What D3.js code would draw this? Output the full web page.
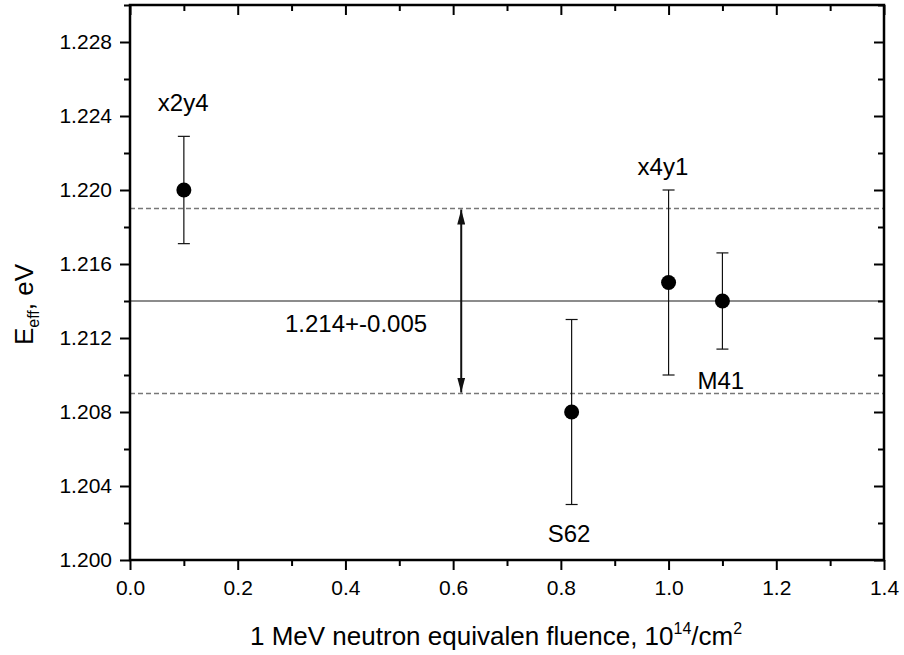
<!DOCTYPE html>
<html>
<head>
<meta charset="utf-8">
<script src="https://cdn.jsdelivr.net/npm/d3@7"></script>
<style>
  body { margin: 0; background: #fff; }
  svg { display: block; font-family: "Liberation Sans", Arial, sans-serif; }
</style>
</head>
<body>
<div class="graph"></div>
<script>
// sample data
const samples = ["x2y4", "S62", "x4y1", "M41"];
const fluence = [0.1, 0.82, 1.0, 1.1];
const eEff = [1.22, 1.208, 1.215, 1.214];
const errPlus = [0.0029, 0.005, 0.005, 0.0026];
const errMinus = [0.0029, 0.005, 0.005, 0.0026];

// mean value band
const meanE = 1.214;
const spreadE = 0.005;
const arrowX = 0.615;
const bandLabel = "1.214+-0.005";

const xTicks = [0, 0.2, 0.4, 0.6, 0.8, 1.0, 1.2, 1.4];
const yTicks = [1.2, 1.204, 1.208, 1.212, 1.216, 1.22, 1.224, 1.228];

const width = 904;
const height = 655;
const margin = { top: 5, right: 20, bottom: 95, left: 130 };

const svg = d3
  .select(".graph")
  .append("svg")
  .attr("width", width)
  .attr("height", height);

const x = d3
  .scaleLinear()
  .domain([0, 1.4])
  .range([margin.left, width - margin.right]);
const y = d3
  .scaleLinear()
  .domain([1.2, 1.23])
  .range([height - margin.bottom, margin.top]);

const points = samples.map((name, i) => ({
  name,
  x: fluence[i],
  y: eEff[i],
  hi: eEff[i] + errPlus[i],
  lo: eEff[i] - errMinus[i],
}));

// label offsets from each point (px)
const labelPos = {
  x2y4: { dx: -26, at: "hi", dy: -25 },
  S62: { dx: -24, at: "lo", dy: 37 },
  x4y1: { dx: -31, at: "hi", dy: -15 },
  M41: { dx: -25, at: "y", dy: 88 },
};

// reference lines
const lines = svg.append("g");
lines
  .append("line")
  .attr("x1", x(0))
  .attr("x2", x(1.4))
  .attr("y1", y(meanE))
  .attr("y2", y(meanE))
  .attr("stroke", "#666")
  .attr("stroke-width", 1.5);
lines
  .selectAll(".dash")
  .data([meanE + spreadE, meanE - spreadE])
  .join("line")
  .attr("x1", x(0))
  .attr("x2", x(1.4))
  .attr("y1", (d) => y(d))
  .attr("y2", (d) => y(d))
  .attr("stroke", "#777")
  .attr("stroke-width", 1.3)
  .attr("stroke-dasharray", "5,3");

// double arrow
const defs = svg.append("defs");
defs
  .append("marker")
  .attr("id", "head")
  .attr("viewBox", "0 0 15 8")
  .attr("refX", 15)
  .attr("refY", 4)
  .attr("markerWidth", 7.5)
  .attr("markerHeight", 4)
  .attr("markerUnits", "strokeWidth")
  .attr("orient", "auto-start-reverse")
  .append("path")
  .attr("d", "M0,0L15,4L0,8Z")
  .attr("fill", "#111");

svg
  .append("line")
  .attr("x1", x(arrowX))
  .attr("x2", x(arrowX))
  .attr("y1", y(meanE + spreadE) + 1)
  .attr("y2", y(meanE - spreadE) - 1)
  .attr("stroke", "#111")
  .attr("stroke-width", 2)
  .attr("marker-start", "url(#head)")
  .attr("marker-end", "url(#head)");

svg
  .append("text")
  .attr("x", 285)
  .attr("y", y(meanE) + 31)
  .attr("font-size", 24)
  .text(bandLabel);

// error bars
const capW = 6;
const err = svg.append("g").attr("stroke", "#111").attr("stroke-width", 1.2);
err
  .selectAll(".v")
  .data(points)
  .join("line")
  .attr("x1", (d) => x(d.x))
  .attr("x2", (d) => x(d.x))
  .attr("y1", (d) => y(d.hi))
  .attr("y2", (d) => y(d.lo));
err
  .selectAll(".cap")
  .data(points.flatMap((d) => [{ x: d.x, v: d.hi }, { x: d.x, v: d.lo }]))
  .join("line")
  .attr("x1", (d) => x(d.x) - capW)
  .attr("x2", (d) => x(d.x) + capW)
  .attr("y1", (d) => y(d.v))
  .attr("y2", (d) => y(d.v));

svg
  .append("g")
  .selectAll("circle")
  .data(points)
  .join("circle")
  .attr("cx", (d) => x(d.x))
  .attr("cy", (d) => y(d.y))
  .attr("r", 7.5)
  .attr("fill", "#000");

svg
  .append("g")
  .selectAll("text")
  .data(points)
  .join("text")
  .attr("x", (d) => x(d.x) + labelPos[d.name].dx)
  .attr("y", (d) => y(d[labelPos[d.name].at]) + labelPos[d.name].dy)
  .attr("font-size", 24)
  .text((d) => d.name);

// axes
const tickStyle = (g) => {
  g.select(".domain").remove();
  g.selectAll(".tick line").attr("stroke", "#000").attr("stroke-width", 2);
  g.selectAll(".tick text")
    .attr("font-size", 21)
    .attr("fill", "#000")
    .attr("font-family", "Liberation Sans, Arial, sans-serif");
};

const xMinor = d3.range(0.1, 1.4, 0.2);
const yMinor = d3.range(1.202, 1.23, 0.004);

const bottomY = height - margin.bottom;
const rightX = width - margin.right;

svg
  .append("g")
  .attr("transform", `translate(0,${bottomY})`)
  .call(d3.axisBottom(x).tickValues(xTicks).tickFormat(d3.format(".1f")).tickSize(10).tickPadding(10).tickSizeOuter(0))
  .call(tickStyle);
svg
  .append("g")
  .attr("transform", `translate(0,${bottomY})`)
  .call(d3.axisBottom(x).tickValues(xMinor).tickFormat("").tickSize(6).tickSizeOuter(0))
  .call(tickStyle);
svg
  .append("g")
  .attr("transform", `translate(0,${margin.top})`)
  .call(d3.axisTop(x).tickValues(xTicks).tickFormat("").tickSize(-10).tickSizeOuter(0))
  .call(tickStyle);
svg
  .append("g")
  .attr("transform", `translate(0,${margin.top})`)
  .call(d3.axisTop(x).tickValues(xMinor).tickFormat("").tickSize(-6).tickSizeOuter(0))
  .call(tickStyle);

svg
  .append("g")
  .attr("transform", `translate(${margin.left},0)`)
  .call(d3.axisLeft(y).tickValues(yTicks).tickFormat(d3.format(".3f")).tickSize(10).tickPadding(8).tickSizeOuter(0))
  .call(tickStyle);
svg
  .append("g")
  .attr("transform", `translate(${margin.left},0)`)
  .call(d3.axisLeft(y).tickValues(yMinor).tickFormat("").tickSize(6).tickSizeOuter(0))
  .call(tickStyle);
svg
  .append("g")
  .attr("transform", `translate(${rightX},0)`)
  .call(d3.axisRight(y).tickValues(yTicks).tickFormat("").tickSize(-10).tickSizeOuter(0))
  .call(tickStyle);
svg
  .append("g")
  .attr("transform", `translate(${rightX},0)`)
  .call(d3.axisRight(y).tickValues(yMinor).tickFormat("").tickSize(-6).tickSizeOuter(0))
  .call(tickStyle);

// frame
svg
  .append("rect")
  .attr("x", margin.left)
  .attr("y", margin.top)
  .attr("width", rightX - margin.left)
  .attr("height", bottomY - margin.top)
  .attr("fill", "none")
  .attr("stroke", "#000")
  .attr("stroke-width", 2.5);

// axis titles
const xTitle = svg
  .append("text")
  .attr("x", 250)
  .attr("y", 645)
  .attr("font-size", 26);
xTitle.append("tspan").text("1 MeV neutron equivalen fluence, 10");
xTitle.append("tspan").attr("font-size", 16).attr("dy", -11).text("14");
xTitle.append("tspan").attr("dy", 11).text("/cm");
xTitle.append("tspan").attr("font-size", 16).attr("dy", -11).text("2");

const yTitle = svg
  .append("text")
  .attr("transform", `translate(33,${(margin.top + bottomY) / 2 + 22}) rotate(-90)`)
  .attr("text-anchor", "middle")
  .attr("font-size", 26);
yTitle.append("tspan").text("E");
yTitle.append("tspan").attr("font-size", 16).attr("dy", 6).text("eff");
yTitle.append("tspan").attr("dy", -6).text(", eV");
</script>
</body>
</html>
